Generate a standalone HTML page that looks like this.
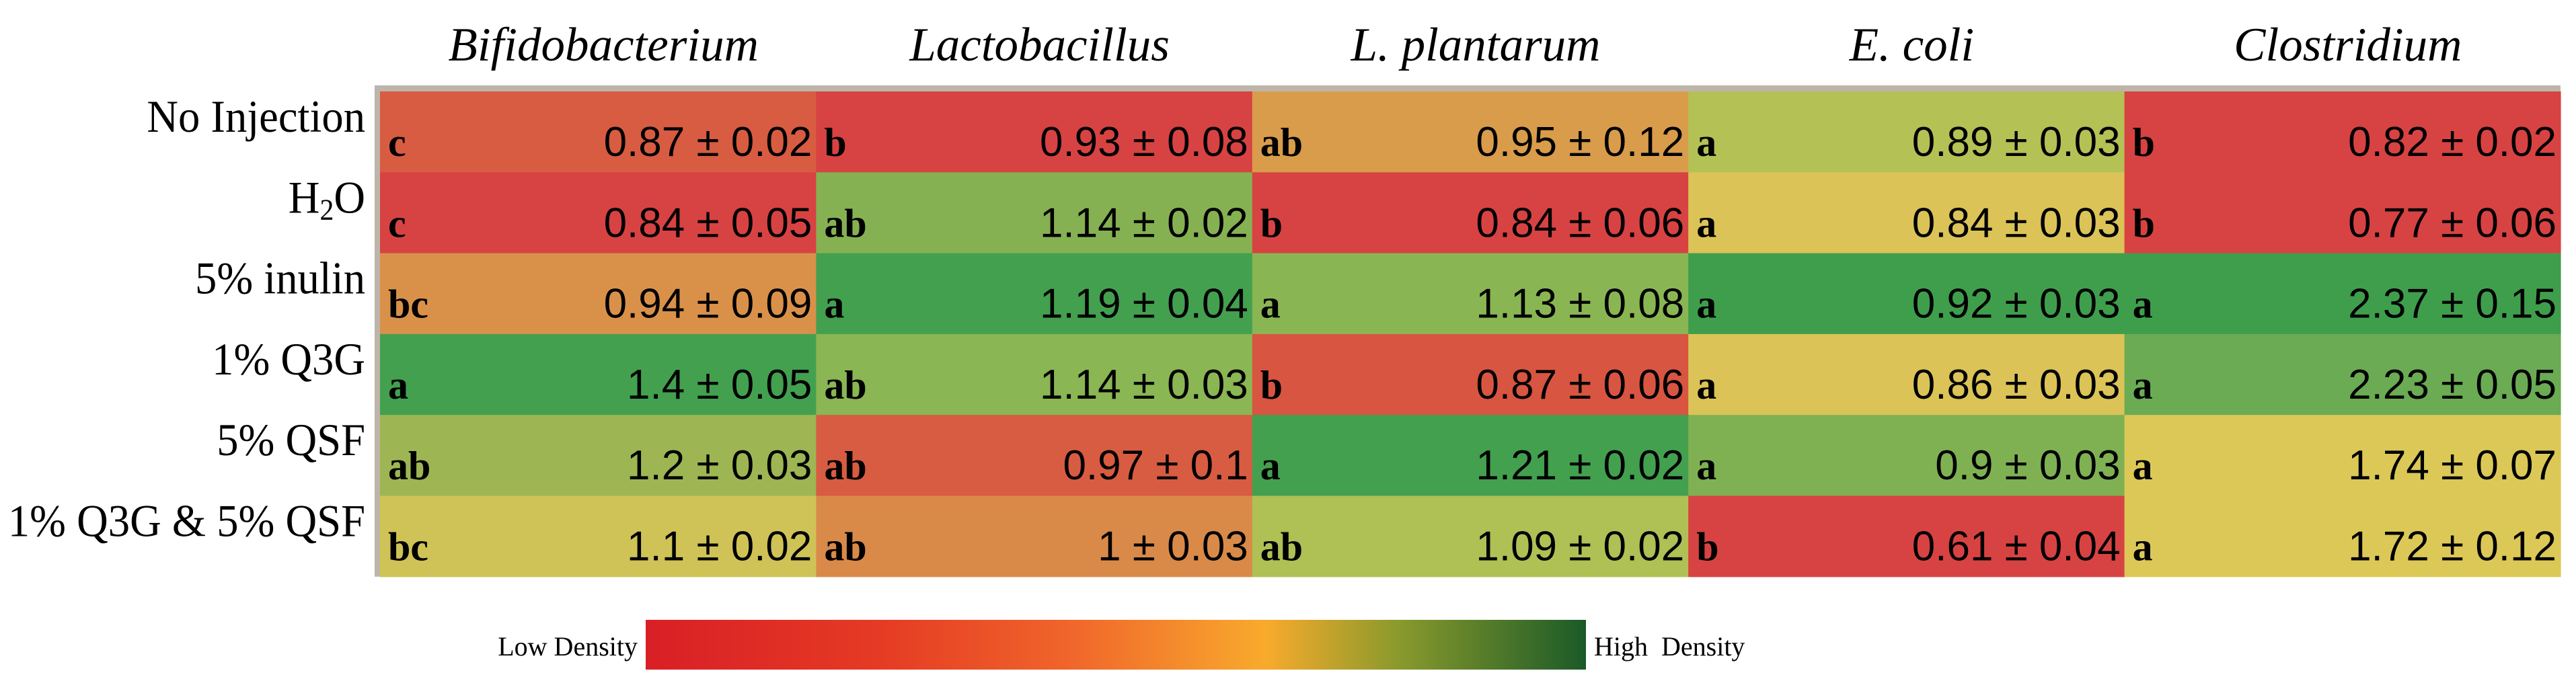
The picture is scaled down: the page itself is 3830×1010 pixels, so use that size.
<!DOCTYPE html>
<html><head><meta charset="utf-8"><style>
html,body{margin:0;padding:0;background:#fff;width:3830px;height:1010px;overflow:hidden}
svg{display:block}
</style></head><body>
<svg id="chart" width="3830" height="1010" viewBox="0 0 3830 1010" xmlns="http://www.w3.org/2000/svg">
<defs>
<linearGradient id="cbar" x1="0" x2="1" y1="0" y2="0">
<stop offset="0" stop-color="#d91f26"/>
<stop offset="0.25" stop-color="#e53b24"/>
<stop offset="0.45" stop-color="#f0652b"/>
<stop offset="0.66" stop-color="#f8aa2c"/>
<stop offset="0.8" stop-color="#8a9a2c"/>
<stop offset="1" stop-color="#1b5a28"/>
</linearGradient>
</defs>
<g id="grid"></g>
<rect x="960" y="922" width="1398" height="74" fill="url(#cbar)"/>
<text x="948" y="975" text-anchor="end" font-family="Liberation Serif, serif" font-size="40">Low Density</text>
<text x="2370" y="975" font-family="Liberation Serif, serif" font-size="40" xml:space="preserve">High  Density</text>
</svg>
<script>
const columns = ["Bifidobacterium","Lactobacillus","L. plantarum","E. coli","Clostridium"];
const rows = ["No Injection","H2O","5% inulin","1% Q3G","5% QSF","1% Q3G & 5% QSF"];
const means = [
 [0.87,0.93,0.95,0.89,0.82],
 [0.84,1.14,0.84,0.84,0.77],
 [0.94,1.19,1.13,0.92,2.37],
 [1.4,1.14,0.87,0.86,2.23],
 [1.2,0.97,1.21,0.9,1.74],
 [1.1,1,1.09,0.61,1.72]
];
const errs = [
 ["0.02","0.08","0.12","0.03","0.02"],
 ["0.05","0.02","0.06","0.03","0.06"],
 ["0.09","0.04","0.08","0.03","0.15"],
 ["0.05","0.03","0.06","0.03","0.05"],
 ["0.03","0.1","0.02","0.03","0.07"],
 ["0.02","0.03","0.02","0.04","0.12"]
];
const letters = [
 ["c","b","ab","a","b"],
 ["c","ab","b","a","b"],
 ["bc","a","a","a","a"],
 ["a","ab","b","a","a"],
 ["ab","ab","a","a","a"],
 ["bc","ab","ab","b","a"]
];
const colors = [
 ["#d85c41","#d74342","#d99c4b","#b4c155","#d74342"],
 ["#d74342","#86b152","#d74342","#dbc357","#d74342"],
 ["#d9914a","#43a04f","#89b653","#3f9e4c","#3f9e4c"],
 ["#43a04f","#8ab653","#d85541","#dbc357","#6aab54"],
 ["#9db653","#d85c41","#43a04f","#7fb153","#dcc857"],
 ["#cfc357","#d98a48","#afc055","#d74342","#dcc857"]
];
const NS="http://www.w3.org/2000/svg";
const g=document.getElementById('grid');
const svg=document.getElementById('chart');
const left=565, top0=136, cw=648.4, rh=120.3;
const xPos=i=>left+i*cw;
const yPos=j=>top0+j*rh;
function mk(tag,attrs,parent){const e=document.createElementNS(NS,tag);for(const k in attrs)e.setAttribute(k,attrs[k]);(parent||g).appendChild(e);return e;}
const bd=mk('rect',{x:557,y:127,width:xPos(5)-557,height:yPos(6)-127,fill:'#bdb5aa'});


columns.forEach((c,i)=>{
  const t=mk('text',{x:xPos(i)+cw/2+8,y:90,'text-anchor':'middle','font-family':'Liberation Serif, serif','font-style':'italic','font-size':71},svg);
  t.textContent=c;
  
  
});
rows.forEach((r,j)=>{
  const t=mk('text',{x:0,y:0,transform:'translate(543,'+(yPos(j)+60)+') scale(0.95,1)','text-anchor':'end','font-family':'Liberation Serif, serif','font-size':68},svg);
  if(r==="H2O"){t.innerHTML='H<tspan font-size="44" dy="10">2</tspan><tspan dy="-10">O</tspan>';}
  else t.textContent=r;
  
  
  columns.forEach((c,i)=>{
    const rc=mk('rect',{x:xPos(i),y:yPos(j),width:cw+0.6,height:rh+0.6,fill:colors[j][i]});
    
    
    const lt=mk('text',{x:xPos(i)+12,y:yPos(j)+96,'font-family':'Liberation Serif, serif','font-weight':'bold','font-size':60});
    lt.textContent=letters[j][i];
    
    
    const vt=mk('text',{x:xPos(i+1)-6,y:yPos(j)+96,'text-anchor':'end','font-family':'Liberation Sans, sans-serif','font-size':62});
    vt.textContent=means[j][i]+' \u00b1 '+errs[j][i];
    
    
  });
});
</script>
</body></html>
